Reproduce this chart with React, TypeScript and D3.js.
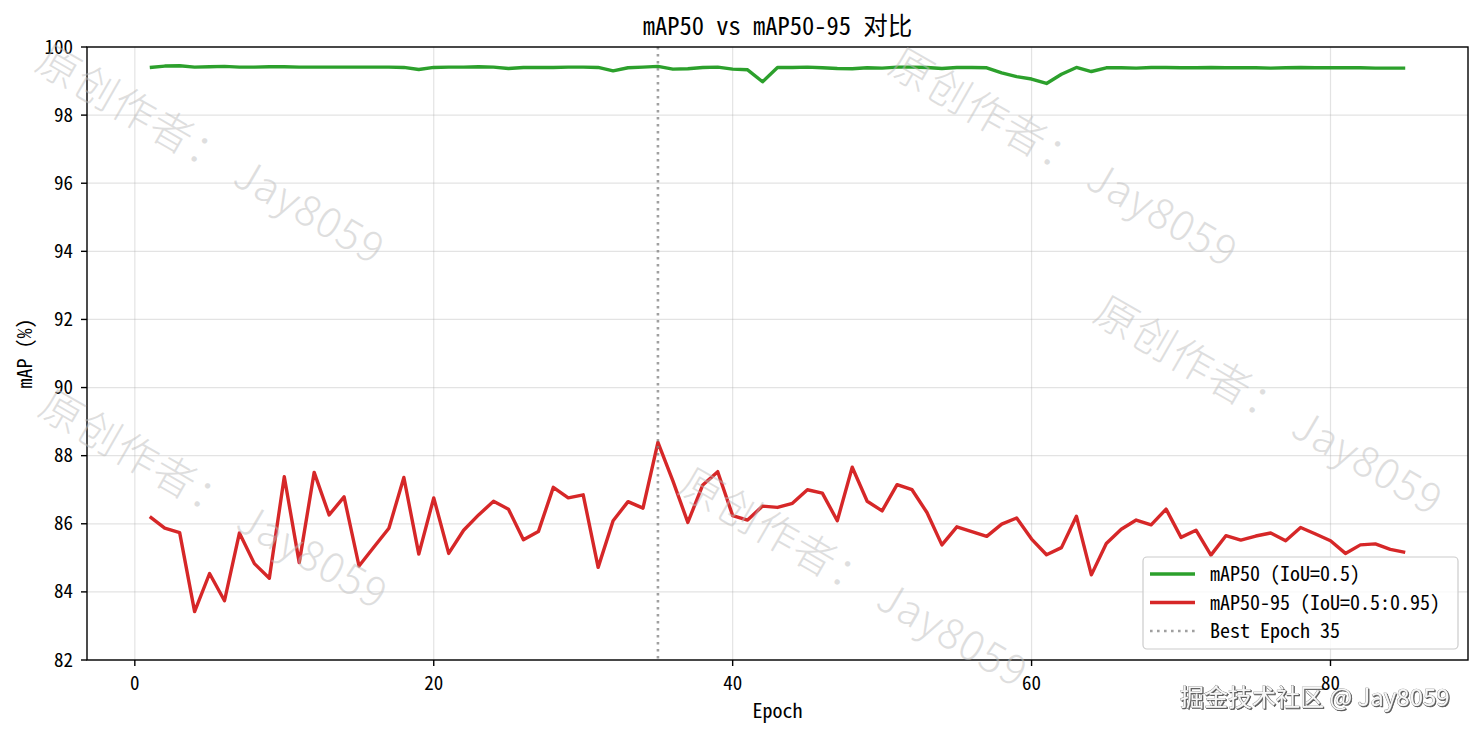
import React from "react";
import * as d3 from "d3";

const map50: number[] = [
  99.40, 99.44, 99.45, 99.41, 99.42, 99.43, 99.41, 99.41, 99.42, 99.42,
  99.41, 99.41, 99.41, 99.41, 99.41, 99.41, 99.41, 99.40, 99.34, 99.40,
  99.41, 99.41, 99.42, 99.41, 99.37, 99.40, 99.40, 99.40, 99.41, 99.41,
  99.40, 99.30, 99.39, 99.41, 99.43, 99.35, 99.36, 99.40, 99.41, 99.35,
  99.33, 98.98, 99.40, 99.40, 99.41, 99.39, 99.37, 99.36, 99.39, 99.38,
  99.41, 99.41, 99.40, 99.37, 99.40, 99.40, 99.39, 99.24, 99.13, 99.06,
  98.93, 99.20, 99.40, 99.28, 99.39, 99.39, 99.38, 99.40, 99.40, 99.39,
  99.39, 99.40, 99.39, 99.39, 99.39, 99.38, 99.39, 99.40, 99.39, 99.39,
  99.39, 99.39, 99.38, 99.38, 99.38,
];

const map5095: number[] = [
  86.21, 85.87, 85.74, 83.42, 84.54, 83.74, 85.73, 84.83, 84.40, 87.38,
  84.86, 87.51, 86.26, 86.79, 84.76, 85.32, 85.87, 87.36, 85.11, 86.76,
  85.13, 85.81, 86.26, 86.66, 86.43, 85.53, 85.77, 87.07, 86.76, 86.85,
  84.72, 86.09, 86.65, 86.46, 88.39, 87.26, 86.04, 87.14, 87.53, 86.24,
  86.11, 86.52, 86.48, 86.60, 87.00, 86.90, 86.09, 87.66, 86.66, 86.38,
  87.15, 87.00, 86.33, 85.38, 85.91, 85.77, 85.63, 85.99, 86.17, 85.55,
  85.09, 85.30, 86.22, 84.50, 85.42, 85.84, 86.11, 85.97, 86.43, 85.60,
  85.81, 85.08, 85.65, 85.52, 85.64, 85.73, 85.50, 85.89, 85.70, 85.50,
  85.13, 85.38, 85.41, 85.25, 85.16,
];

const epochs: number[] = map50.map((_, i) => i + 1);
const bestEpoch = 35;
const xTicks: number[] = [0, 20, 40, 60, 80];
const yTicks: number[] = [82, 84, 86, 88, 90, 92, 94, 96, 98, 100];
const legendLabels: string[] = ["mAP50 (IoU=0.5)", "mAP50-95 (IoU=0.5:0.95)", `Best Epoch ${bestEpoch}`];
const watermarkText = "原创作者： Jay8059";
const watermarkSpots: [number, number][] = [
  [33, 69],
  [36, 414],
  [886, 72],
  [1091, 320],
  [676, 492],
];

const W = 1484;
const H = 734;
const L = 87;
const R = 1468;
const T = 47;
const B = 660;

const FONT = "'Noto Sans Mono CJK SC', 'Noto Sans CJK SC', 'DejaVu Sans Mono', monospace";
const WMFONT = "'Noto Sans CJK SC', 'Noto Sans', sans-serif";

export default function App() {
  const x = d3.scaleLinear().domain([-3.2, 89.2]).range([L, R]);
  const y = d3.scaleLinear().domain([82, 100]).range([B, T]);
  const line = d3
    .line<number>()
    .x((_, i) => x(epochs[i]))
    .y((d) => y(d));

  const legendX = 1143;
  const legendY = 557;
  const rows = [574, 602.5, 631];

  return (
    <svg
      width={W}
      height={H}
      style={{ position: "absolute", left: 0, top: 0, background: "#fff" }}
      fontFamily={FONT}
    >
      <defs>
        <clipPath id="plotclip">
          <rect x={L} y={T} width={R - L} height={B - T} />
        </clipPath>
        <filter id="shadow" x="-5%" y="-20%" width="110%" height="140%">
          <feDropShadow dx="1" dy="1" stdDeviation="0.6" floodColor="#444" floodOpacity="0.9" />
        </filter>
      </defs>
      <rect x={0} y={0} width={W} height={H} fill="#fff" />

      {/* grid */}
      <g stroke="#b0b0b0" strokeOpacity={0.35} strokeWidth={1.2}>
        {xTicks.map((t) => (
          <line key={"gx" + t} x1={x(t)} x2={x(t)} y1={T} y2={B} />
        ))}
        {yTicks.map((t) => (
          <line key={"gy" + t} x1={L} x2={R} y1={y(t)} y2={y(t)} />
        ))}
      </g>

      {/* lines */}
      <g clipPath="url(#plotclip)">
        <path d={line(map50) || ""} fill="none" stroke="#2ca02c" strokeWidth={3.4} strokeLinejoin="round" />
        <path d={line(map5095) || ""} fill="none" stroke="#d62728" strokeWidth={3.4} strokeLinejoin="round" />
        <line
          x1={x(bestEpoch)}
          x2={x(bestEpoch)}
          y1={T}
          y2={B}
          stroke="#808080"
          strokeOpacity={0.75}
          strokeWidth={2.6}
          strokeDasharray="2.6 4.4"
        />
      </g>

      {/* bottom-right watermark */}
      <text
        x={1180}
        y={706}
        fontFamily={WMFONT}
        fontSize={24}
        fill="#f7f7f7"
        stroke="#777"
        strokeWidth={0.7}
        paintOrder="stroke"
        filter="url(#shadow)"
      >
        掘金技术社区 @ Jay8059
      </text>

      {/* spines */}
      <rect x={L} y={T} width={R - L} height={B - T} fill="none" stroke="#000" strokeWidth={1.4} />

      {/* ticks */}
      <g stroke="#000" strokeWidth={1.4}>
        {xTicks.map((t) => (
          <line key={"tx" + t} x1={x(t)} x2={x(t)} y1={B} y2={B + 6} />
        ))}
        {yTicks.map((t) => (
          <line key={"ty" + t} x1={L - 6} x2={L} y1={y(t)} y2={y(t)} />
        ))}
      </g>
      <g fontSize={19} fill="#000">
        {xTicks.map((t) => (
          <text key={"lx" + t} x={x(t)} y={689.5} textAnchor="middle">
            {t}
          </text>
        ))}
        {yTicks.map((t) => (
          <text key={"ly" + t} x={L - 14} y={y(t) + 6.5} textAnchor="end">
            {t}
          </text>
        ))}
      </g>

      {/* labels */}
      <text x={(L + R) / 2} y={718} textAnchor="middle" fontSize={20} fill="#000">
        Epoch
      </text>
      <text
        transform={`translate(${32},${(T + B) / 2}) rotate(-90)`}
        textAnchor="middle"
        fontSize={20}
        fill="#000"
      >
        mAP (%)
      </text>
      <text x={(L + R) / 2} y={35} textAnchor="middle" fontSize={24.5} fill="#000">
        mAP50 vs mAP50-95 对比
      </text>

      {/* legend */}
      <rect
        x={legendX}
        y={legendY}
        width={315}
        height={92}
        rx={4}
        fill="#fff"
        fillOpacity={0.8}
        stroke="#cccccc"
        strokeWidth={1.2}
      />
      <line x1={1150} x2={1195} y1={rows[0]} y2={rows[0]} stroke="#2ca02c" strokeWidth={3.4} />
      <line x1={1150} x2={1195} y1={rows[1]} y2={rows[1]} stroke="#d62728" strokeWidth={3.4} />
      <line
        x1={1150}
        x2={1195}
        y1={rows[2]}
        y2={rows[2]}
        stroke="#808080"
        strokeOpacity={0.75}
        strokeWidth={2.6}
        strokeDasharray="2.6 4.4"
      />
      {legendLabels.map((s, i) => (
        <text key={s} x={1210} y={rows[i] + 7} fontSize={20} fill="#000">
          {s}
        </text>
      ))}

      {/* diagonal watermarks */}
      <g
        fontFamily={WMFONT}
        fontSize={42}
        fontWeight={300}
        letterSpacing={1.5}
        fill="#bdbdbd"
        fillOpacity={0.5}
      >
        {watermarkSpots.map(([wx, wy], i) => (
          <text key={"wm" + i} transform={`translate(${wx},${wy}) rotate(30)`}>
            {watermarkText}
          </text>
        ))}
      </g>
    </svg>
  );
}
